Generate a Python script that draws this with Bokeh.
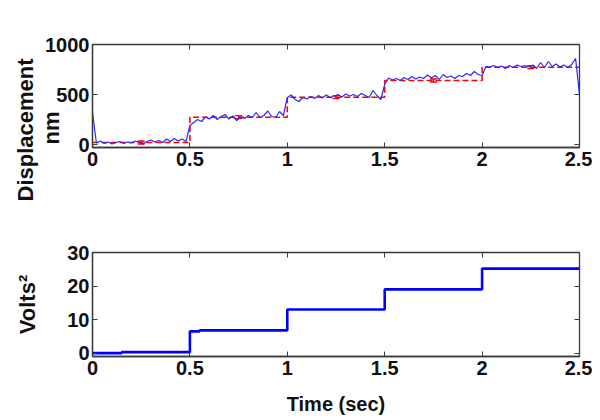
import numpy as np
from bokeh.plotting import figure
from bokeh.layouts import column
from bokeh.models import (Range1d, FixedTicker, LinearAxis, Title, Whisker,
                          TeeHead, ColumnDataSource)
from bokeh.embed import file_html
from bokeh.resources import INLINE

# ---------------- data ----------------
# blue measured displacement trace (nm), sampled every 0.02 s from 0 to 2.5 s
disp_t = [round(0.02 * i, 2) for i in range(126)]
disp_nm = [
    320, 15, 35, 10, 25, 5, 20, 30, 10, 25,
    15, 35, 20, 5, 30, 45, 25, 40, 20, 55,
    30, 60, 35, 55, 30, 190, 220, 250, 230, 275,
    255, 290, 250, 280, 300, 255, 285, 240, 275, 260,
    290, 270, 320, 270, 290, 335, 280, 270, 330, 290,
    470, 495, 450, 430, 470, 455, 480, 460, 490, 465,
    495, 470, 480, 500, 475, 505, 485, 500, 480, 510,
    490, 470, 540, 490, 450, 600, 665, 645, 660, 640,
    670, 650, 680, 655, 675, 660, 695, 665, 690, 650,
    700, 670, 685, 660, 690, 680, 710, 690, 730, 700,
    690, 780, 775, 790, 770, 785, 760, 790, 770, 795,
    780, 790, 775, 795, 760, 820, 770, 830, 780, 805,
    775, 795, 770, 800, 860, 500,
]

# red dashed commanded steps (nm)
step_t = [0.0, 0.5, 1.0, 1.5, 2.0, 2.5]
step_nm = [20, 273, 473, 640, 773, 773]

# error bars on red steps
err_t = [0.25, 0.75, 1.25, 1.75, 2.25]
err_mid = [20, 273, 473, 640, 773]
err_half = [15, 15, 15, 15, 15]

# bottom panel: Volts^2 steps
volt_t = [0.0, 0.15, 0.5, 0.55, 1.0, 1.5, 2.0, 2.5]
volt_sq = [0.0, 0.3, 6.5, 6.8, 13.0, 19.0, 25.2, 25.2]

x_ticks = [0, 0.5, 1, 1.5, 2, 2.5]
x_tick_labels = {0: "0", 0.5: "0.5", 1: "1", 1.5: "1.5", 2: "2", 2.5: "2.5"}
top_y_ticks = [0, 500, 1000]
bot_y_ticks = [0, 10, 20, 30]

FONT = "Liberation Sans"
DARK = "#3a3a3a"
INK = "#111111"


def style(p, yticks):
    p.xgrid.visible = False
    p.ygrid.visible = False
    p.outline_line_color = DARK
    p.outline_line_width = 1.3
    p.background_fill_color = "white"
    p.border_fill_color = "white"
    xb, yl = p.xaxis[0], p.yaxis[0]
    for ax in (xb, yl):
        ax.major_tick_in = 5
        ax.major_tick_out = 0
        ax.minor_tick_line_color = None
        ax.axis_line_color = DARK
        ax.axis_line_width = 1.3
        ax.major_tick_line_color = DARK
        ax.major_label_text_font = FONT
        ax.major_label_text_font_style = "bold"
        ax.major_label_text_font_size = "20px"
        ax.major_label_text_color = INK
        ax.axis_label_text_font = FONT
        ax.axis_label_text_font_style = "bold"
        ax.axis_label_text_color = INK
    xb.ticker = FixedTicker(ticks=x_ticks)
    xb.major_label_overrides = x_tick_labels
    xb.major_label_standoff = 4
    yl.ticker = FixedTicker(ticks=yticks)
    yl.major_label_standoff = 3
    # mirrored ticks on top and right (labels not drawn)
    for loc, tk in (("above", x_ticks), ("right", yticks)):
        ax = LinearAxis(ticker=FixedTicker(ticks=tk), major_tick_in=5,
                        major_tick_out=0, minor_tick_line_color=None,
                        axis_line_color=None, major_label_text_font_size="1px",
                        major_label_text_color=None, major_label_standoff=0,
                        major_tick_line_color=DARK)
        p.add_layout(ax, loc)
    return xb, yl


def side_title(text, align, offset, standoff, size="22px"):
    return Title(text=text, align=align, offset=offset, standoff=standoff,
                 text_font=FONT, text_font_style="bold", text_font_size=size,
                 text_color=INK)


# ---------------- top panel ----------------
p1 = figure(width=592, height=207, output_backend="svg", toolbar_location=None,
            x_range=Range1d(0, 2.5), y_range=Range1d(-30, 1000),
            min_border_left=92, min_border_right=13, min_border_top=44,
            min_border_bottom=60)
style(p1, top_y_ticks)

p1.step(step_t, step_nm, mode="after", line_color="red", line_width=1.6,
        line_dash="6 3")
err_src = ColumnDataSource(dict(
    t=err_t,
    lo=[m - h for m, h in zip(err_mid, err_half)],
    hi=[m + h for m, h in zip(err_mid, err_half)],
))
p1.add_layout(Whisker(source=err_src, base="t", lower="lo", upper="hi",
                      dimension="height", line_color="red", line_width=1.3,
                      upper_head=TeeHead(size=7, line_color="red", line_width=1.3),
                      lower_head=TeeHead(size=7, line_color="red", line_width=1.3)))
p1.line(disp_t, disp_nm, line_color="#2a2aff", line_width=1.2)

p1.add_layout(side_title("nm", "left", offset=3, standoff=-43), "left")
p1.add_layout(side_title("Displacement", "left", offset=-54, standoff=10), "left")

# ---------------- bottom panel ----------------
p2 = figure(width=592, height=213, output_backend="svg", toolbar_location=None,
            x_range=Range1d(0, 2.5), y_range=Range1d(-1, 30),
            min_border_left=92, min_border_right=13, min_border_top=45,
            min_border_bottom=64)
xb2, yl2 = style(p2, bot_y_ticks)
p2.step(volt_t, volt_sq, mode="after", line_color="#0000ff", line_width=2.6)
xb2.axis_label = "Time (sec)"
xb2.axis_label_text_font_size = "20px"
xb2.axis_label_standoff = 15
yl2.axis_label = "Volts²"
yl2.axis_label_text_font_size = "22px"
yl2.axis_label_standoff = 24

layout = column(p1, p2)
open("out.html", "w").write(file_html(layout, INLINE))
